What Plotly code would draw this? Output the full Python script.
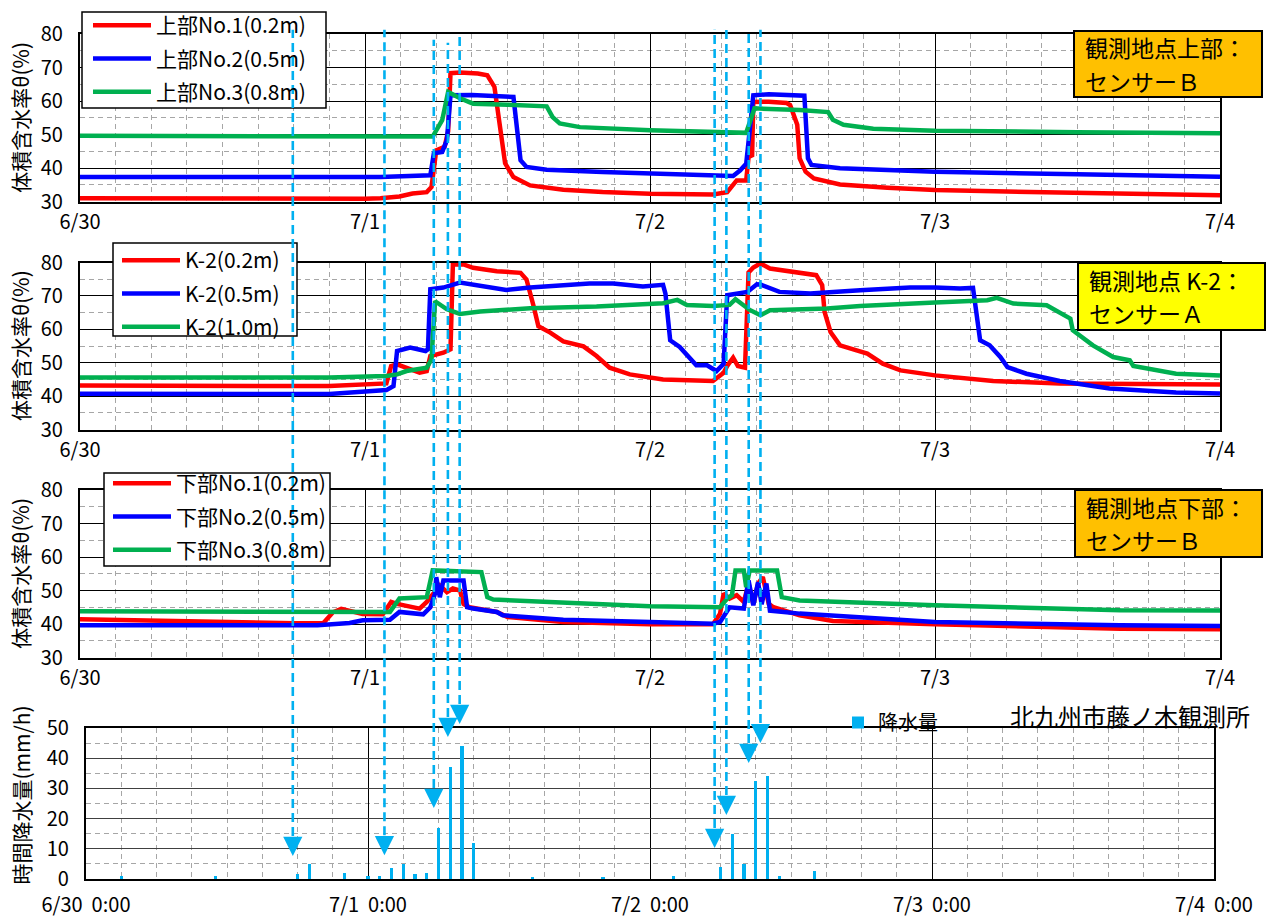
import plotly.graph_objects as go

FONT = "Noto Sans CJK JP"
W, H = 1267, 920

# ---------------- data ----------------
day_ticks = [0, 24, 48, 72, 96]
tick_labels = ["6/30", "7/1", "7/2", "7/3", "7/4"]
rain_tick_labels = ["6/30\u00a0\u00a00:00", "7/1\u00a0\u00a00:00", "7/2\u00a0\u00a00:00",
                    "7/3\u00a0\u00a00:00", "7/4\u00a0\u00a00:00"]

# upper site (hours from 6/30 0:00)
u1_t = [0, 12, 24, 25.3, 26.9, 28.0, 29.2, 29.6, 30.0, 30.7, 31.0, 31.2, 32, 33.5, 34.3, 34.9, 35.3, 35.8,
        36.5, 37.9, 40.7, 44, 48, 53.3, 54.5, 55.3, 56.1, 56.3, 56.6, 56.7, 58, 59.5, 59.8, 60.4, 60.6,
        61.1, 61.8, 64, 68, 72, 80, 88, 96]
u1_v = [31.0, 30.8, 30.8, 31.0, 31.5, 32.4, 32.8, 34.3, 45.3, 46.3, 51, 68.3, 68.5, 68.2, 67.7, 64.2, 55,
        41.4, 37.3, 34.8, 33.5, 32.8, 32.3, 32.1, 32.8, 36.3, 36.3, 43.3, 43.8, 59.7, 59.8, 59.4, 58.8,
        52.9, 42.9, 38.9, 36.9, 35.1, 34.1, 33.4, 32.8, 32.3, 31.9]
u2_t = [0, 24, 25.3, 29.5, 29.8, 30.5, 30.9, 31.2, 33, 36.5, 36.8, 37.1, 37.6, 39.3, 44, 48, 55.0, 55.6,
        56.1, 56.4, 56.7, 58, 61.0, 61.3, 61.6, 64, 72, 84, 96]
u2_v = [37.3, 37.2, 37.3, 37.8, 44.4, 44.8, 48.3, 61.7, 61.8, 61.2, 51.3, 42.3, 40.3, 39.5, 38.8, 38.3,
        37.6, 39.3, 41.3, 51.3, 61.7, 62.0, 61.6, 42.9, 40.9, 39.9, 38.9, 38.1, 37.4]
u3_t = [0, 24, 29.7, 30.5, 31.0, 32, 33.1, 36, 39.3, 39.8, 40.4, 42.1, 48, 56.1, 56.4, 56.8, 60.6, 63,
        63.4, 64.3, 66.8, 72, 84, 96]
u3_v = [49.6, 49.4, 49.4, 54.3, 62.7, 60.8, 59.2, 58.9, 58.4, 55.2, 53.3, 52.2, 51.3, 50.5, 53.3, 57.8,
        57.3, 56.7, 54.4, 52.9, 51.7, 51.1, 50.7, 50.4]

# K-2 site
k1_t = [0, 12, 21, 25.8, 26.2, 26.7, 28.6, 29.2, 29.5, 30.6, 31.2, 31.4, 32.3, 33.1, 35.1, 37.1, 37.6,
        38.2, 38.6, 39.6, 40.7, 42.4, 43.5, 44.6, 46.3, 49.1, 53.3, 54.2, 54.5, 55.0, 55.4, 56.0, 56.3,
        56.7, 57.3, 58.1, 60.0, 62.0, 62.5, 62.7, 63.2, 64.0, 65.4, 66.3, 67.6, 69.1, 72, 76.9, 82.5,
        92.3, 96]
k1_v = [43.2, 43.1, 43.0, 43.8, 49, 49.5, 47, 47.5, 52, 53, 54, 79.4, 79.4, 78.4, 77.4, 76.9, 74.9, 66.9,
        60.9, 59, 56.4, 54.9, 52, 48.5, 46.5, 45, 44.5, 47, 49, 51.5, 49, 48.5, 77, 78.5, 79.7, 78.2,
        77.2, 76.2, 73.2, 65.2, 59.2, 55.2, 53.7, 52.7, 49.7, 47.7, 46.2, 44.5, 43.8, 43.5, 43.5]
k2_t = [0, 12, 21, 25.8, 26.4, 26.7, 27.8, 29.1, 29.3, 29.5, 30.6, 32, 32.8, 35.1, 35.9, 37.9, 42.9,
        44.9, 47.4, 49.1, 49.3, 49.7, 50.5, 51.9, 52.8, 53.6, 54.2, 54.5, 55.4, 56.2, 57.0, 57.3, 58.9,
        61.5, 65.7, 69.9, 72, 74.1, 75.2, 75.5, 75.8, 76.6, 77.5, 78.1, 79.7, 82.5, 86.7, 92.3, 96]
k2_v = [40.7, 40.6, 40.6, 41.8, 43, 53.5, 54.5, 53.5, 54, 72, 72.5, 74, 73.5, 72, 71.8, 72.5, 73.7, 73.7,
        72.8, 73.3, 70.7, 56.7, 54.7, 49.2, 49.2, 47.5, 49.7, 70.2, 70.7, 71.2, 73.5, 73.4, 71.2, 70.7,
        71.7, 72.5, 72.5, 72.2, 72.4, 65.2, 56.7, 55.2, 51.7, 48.7, 46.7, 44.5, 42.3, 41.1, 40.8]
k3_t = [0, 21, 25.8, 26.7, 27.5, 29.2, 29.6, 29.9, 30.9, 32, 33.7, 37.9, 43.5, 49.1, 50.3, 51.1, 53.3,
        54.7, 55.2, 55.8, 56.4, 57.3, 58.1, 62.9, 65.7, 72, 76.4, 77.2, 78.6, 81.4, 82.5, 83.4, 83.6,
        85.3, 87, 88.4, 88.7, 92.3, 96]
k3_v = [45.6, 45.6, 46, 46.5, 47.5, 48.5, 51, 68.4, 66, 64.6, 65.3, 66.3, 66.8, 67.8, 68.8, 67.3, 67,
        67.3, 69, 67.3, 65.8, 64.2, 65.7, 66.2, 67, 68, 68.7, 69.4, 67.7, 67.2, 65.2, 63.2, 59.7, 55.2,
        51.7, 50.7, 49, 46.7, 46.2]

# lower site
l1_t = [0, 6, 12, 18, 20.5, 21.3, 22, 23.8, 25.5, 26.2, 26.7, 28.6, 29.2, 29.7, 30.3, 30.9, 31.4, 32,
        32.3, 32.8, 35.1, 36.0, 40.7, 48, 53.3, 53.9, 54.2, 54.7, 55.3, 55.9, 56.3, 56.7, 57.1, 57.5, 58,
        58.4, 60.6, 63.4, 72, 87.6, 96]
l1_v = [41.4, 41.0, 40.5, 40.2, 40.3, 43.5, 44.5, 43, 42.9, 46.6, 46, 44.6, 46.6, 49, 51.5, 49.5, 50.6,
        50, 46, 45, 43.6, 42.1, 40.6, 39.9, 39.9, 43.1, 49.1, 47.6, 48.6, 46.6, 52.1, 46, 52.1, 54, 46,
        45, 42.6, 40.9, 39.9, 38.6, 38.4]
l2_t = [0, 12, 20, 22.7, 23.8, 26.1, 26.9, 28.9, 29.5, 29.9, 30.0, 30.3, 30.6, 32.3, 32.6, 33.1, 35.1,
        35.6, 40.7, 48, 53.3, 53.9, 54.7, 55.9, 56.3, 56.7, 57.1, 57.4, 57.8, 58.1, 60.6, 72, 87.6, 96]
l2_v = [39.6, 39.5, 39.6, 40.3, 41.1, 41.3, 43.6, 42.9, 45, 49.1, 54, 48, 53, 53, 45, 44.6, 43.6, 42.6,
        41.3, 40.6, 40.1, 40.6, 45, 44.6, 53, 45.6, 52.5, 45.9, 52.1, 44, 43.1, 40.6, 39.6, 39.4]
l3_t = [0, 12, 26.1, 26.9, 29.2, 29.7, 33.8, 34.3, 34.8, 48, 53.3, 53.9, 54.5, 54.9, 55.2, 55.9, 56.1,
        56.4, 58.7, 59.1, 60.6, 72, 87.6, 96]
l3_v = [43.8, 43.7, 43.6, 47.6, 48, 56, 55.5, 48, 47.3, 45.3, 45, 45, 47.6, 48.6, 56, 56, 51, 56, 56, 48,
        47, 45.6, 44.1, 44]

# hourly rainfall (mm/h)
rain_t = [3, 11, 18, 19, 22, 24, 25, 26, 27, 28, 29, 30, 31, 32, 33, 38, 44, 50, 54, 55, 56, 57, 58, 59, 62]
rain_v = [1, 1, 1.5, 5, 2, 1, 1, 3.5, 5, 1.5, 2, 17, 37, 44, 12, 0.5, 0.5, 1, 4, 15, 5, 32.5, 34, 1, 2.5]

# rainfall-response arrows: time (h), tip height (mm/h scale), tail top (θ scale of top panel)
arrow_t = [17.6, 25.4, 29.6, 30.8, 31.8, 53.5, 54.5, 56.4, 57.4]
arrow_tip = [7.6, 7.9, 23.5, 47, 51.3, 10.3, 21.2, 38.4, 45]
arrow_top = [81.3, 81.3, 78.3, 77.4, 79.8, 81.3, 81.3, 81.3, 81.3]

names_u = ["上部No.1(0.2m)", "上部No.2(0.5m)", "上部No.3(0.8m)"]
names_k = ["K-2(0.2m)", "K-2(0.5m)", "K-2(1.0m)"]
names_l = ["下部No.1(0.2m)", "下部No.2(0.5m)", "下部No.3(0.8m)"]
colors = ["#FF0000", "#0000FF", "#00B050"]

site_labels = [("観測地点上部：", "センサーＢ"), ("観測地点 K-2：", "センサーＡ"), ("観測地点下部：", "センサーＢ")]
site_colors = ["#FFC000", "#FFFF00", "#FFC000"]

# ---------------- layout geometry (px) ----------------
def ydom(top, bottom):
    return [1 - bottom / H, 1 - top / H]

P1 = ydom(34, 201.5)
P2 = ydom(262.5, 429.5)
P3 = ydom(490, 657.5)
P4 = ydom(728, 879)
XD = [80 / W, 1220 / W]
XD4 = [86 / W, 1214 / W]

# legend boxes (left, top, right, bottom) in px
legend_boxes = [(82, 12, 326, 108), (113, 243, 297, 336), (104, 473, 330, 566)]
# site boxes (left, top, right, bottom) in px
site_boxes = [(1074, 31, 1262, 97), (1078, 263, 1265, 330), (1075, 490, 1262, 557)]

fig = go.Figure()

panels = [
    ((u1_t, u1_v), (u2_t, u2_v), (u3_t, u3_v)),
    ((k1_t, k1_v), (k2_t, k2_v), (k3_t, k3_v)),
    ((l1_t, l1_v), (l2_t, l2_v), (l3_t, l3_v)),
]
names = [names_u, names_k, names_l]
for p, series in enumerate(panels):
    sfx = "" if p == 0 else str(p + 1)
    for i, (t, v) in enumerate(series):
        fig.add_trace(go.Scatter(
            x=t, y=v, mode="lines", name=names[p][i],
            line=dict(color=colors[i], width=4.5),
            xaxis="x" + sfx, yaxis="y" + sfx,
            legend="legend" + sfx, legendgroup=f"g{p}{i}",
            hoverinfo="skip",
        ))

fig.add_trace(go.Bar(
    x=rain_t, y=rain_v, width=0.26, name="降水量",
    marker=dict(color="#00B0F0", line=dict(width=0)),
    xaxis="x4", yaxis="y4", legend="legend4", hoverinfo="skip",
))

tickfont = dict(size=20, color="black", family=FONT)


def xaxis(domain, anchor, ticktext, standoff):
    return dict(
        domain=domain, anchor=anchor, range=[0, 96],
        tickmode="array", tickvals=day_ticks, ticktext=ticktext,
        showgrid=True, gridcolor="black", gridwidth=1.3,
        minor=dict(dtick=3, tick0=0, showgrid=True, gridcolor="#A6A6A6",
                   griddash="5px,4px", gridwidth=1),
        showline=True, linecolor="black", linewidth=2.2, mirror=True,
        ticks="", ticklen=0, tickfont=tickfont, ticklabelstandoff=standoff,
        zeroline=False, fixedrange=True, automargin=False,
    )


def yaxis(domain, anchor, rng, gridcolor="black"):
    return dict(
        domain=domain, anchor=anchor, range=rng,
        tickmode="linear", tick0=rng[0], dtick=10,
        showgrid=True, gridcolor=gridcolor, gridwidth=1.3,
        minor=dict(dtick=5, tick0=rng[0], showgrid=True, gridcolor="#A6A6A6",
                   griddash="5px,4px", gridwidth=1),
        showline=True, linecolor="black", linewidth=2.2, mirror=True,
        ticks="", ticklen=0, tickfont=tickfont, ticklabelstandoff=11,
        zeroline=False, fixedrange=True, automargin=False,
    )


legend_common = dict(
    xanchor="left", yanchor="top", bgcolor="rgba(0,0,0,0)", borderwidth=0,
    font=dict(size=21, color="black", family=FONT),
    itemwidth=58, traceorder="grouped", tracegroupgap=3, itemclick=False,
)

shapes = []
annotations = []

# legend frames (drawn as white boxes under the legend text)
for (l, t, r, b) in legend_boxes:
    shapes.append(dict(type="rect", xref="paper", yref="paper",
                       x0=l / W, x1=r / W, y0=1 - b / H, y1=1 - t / H,
                       fillcolor="white", line=dict(color="black", width=1.5), layer="above"))

# site label boxes
for (l, t, r, b), (line1, line2), bg in zip(site_boxes, site_labels, site_colors):
    shapes.append(dict(type="rect", xref="paper", yref="paper",
                       x0=l / W, x1=r / W, y0=1 - b / H, y1=1 - t / H,
                       fillcolor=bg, line=dict(color="black", width=2), layer="above"))
    for txt, dy in [(line1, 16.5), (line2, 49.5)]:
        annotations.append(dict(
            xref="paper", yref="paper", x=(l + 9) / W, y=1 - (t + dy) / H,
            xanchor="left", yanchor="middle", text=txt, showarrow=False,
            font=dict(size=23, color="black", family=FONT),
        ))


def p4_paper(v):
    return P4[0] + v / 50 * (P4[1] - P4[0])


def p1_paper(v):
    return P1[0] + (v - 30) / 50 * (P1[1] - P1[0])


for t, tip, top in zip(arrow_t, arrow_tip, arrow_top):
    shapes.append(dict(
        type="line", xref="x4", yref="paper", x0=t, x1=t,
        y0=p4_paper(tip) + 6 / H, y1=p1_paper(top),
        line=dict(color="#00B0F0", width=2.6, dash="9px,5px"), layer="above",
    ))
    annotations.append(dict(
        xref="x4", yref="paper", x=t, y=p4_paper(tip), ax=0, ay=-14,
        showarrow=True, arrowhead=2, arrowsize=1.6, arrowwidth=2.4,
        arrowcolor="#00B0F0", text="", standoff=0,
    ))

# axis titles
for top, bottom, txt in [(34, 201.5, "体積含水率θ(%)"), (262.5, 429.5, "体積含水率θ(%)"),
                         (490, 657.5, "体積含水率θ(%)"), (712, 879, "時間降水量(mm/h)")]:
    annotations.append(dict(
        xref="paper", yref="paper", x=20 / W, y=1 - (top + bottom) / 2 / H,
        xanchor="center", yanchor="middle", text=txt, textangle=-90, showarrow=False,
        font=dict(size=21, color="black", family=FONT),
    ))

annotations.append(dict(
    xref="paper", yref="paper", x=1252 / W, y=1 - 715 / H, xanchor="right", yanchor="middle",
    text="北九州市藤ノ木観測所", showarrow=False,
    font=dict(size=24, color="black", family=FONT),
))

fig.update_layout(
    width=W, height=H, margin=dict(l=0, r=0, t=0, b=0),
    paper_bgcolor="white", plot_bgcolor="white",
    font=dict(family=FONT, color="black"),
    showlegend=True, bargap=0,
    xaxis=xaxis(XD, "y", tick_labels, 1),
    xaxis2=xaxis(XD, "y2", tick_labels, 1),
    xaxis3=xaxis(XD, "y3", tick_labels, 1),
    xaxis4=xaxis(XD4, "y4", rain_tick_labels, 7),
    yaxis=yaxis(P1, "x", [30, 80]),
    yaxis2=yaxis(P2, "x2", [30, 80]),
    yaxis3=yaxis(P3, "x3", [30, 80]),
    yaxis4=yaxis(P4, "x4", [0, 50], gridcolor="#404040"),
    legend=dict(x=88 / W, y=1 - 5 / H, **legend_common),
    legend2=dict(x=117 / W, y=1 - 240 / H, **legend_common),
    legend3=dict(x=108 / W, y=1 - 463 / H, **legend_common),
    legend4=dict(x=838 / W, y=1 - 703 / H, xanchor="left", yanchor="top",
                 bgcolor="rgba(0,0,0,0)", borderwidth=0, itemwidth=30,
                 font=dict(size=20, color="black", family=FONT), itemclick=False),
    shapes=shapes, annotations=annotations,
)

fig.write_html(
    "out.html",
    config={"displayModeBar": False},
    post_script="document.body.style.margin='0';document.body.style.padding='0';",
)
